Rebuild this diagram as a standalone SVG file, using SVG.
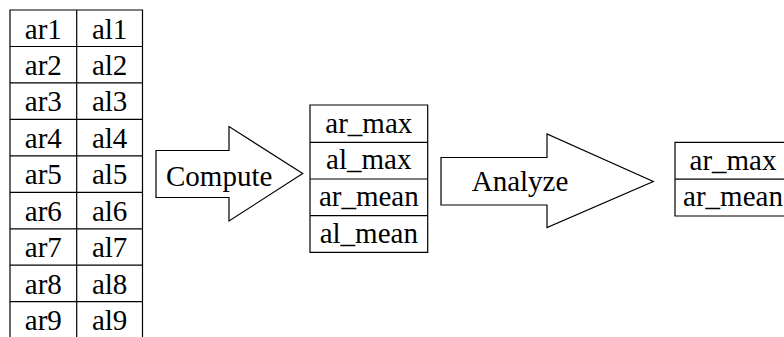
<svg xmlns="http://www.w3.org/2000/svg" width="784" height="337" viewBox="0 0 784 337">
<style>
.c{fill:#fff;stroke:#000;stroke-width:1.2}
.l{stroke:#000;stroke-width:1.2;fill:none}
text{font-family:'Liberation Serif',Tinos,'Times New Roman',Times,'Nimbus Roman','DejaVu Serif',serif;font-size:29px;fill:#000}
.m{text-anchor:middle}
</style>
<rect width="784" height="337" fill="#fff"/>
<g id="input-table">
<path class="l" d="M10,340 V10 H142.5 V340 M76.7,10 V340 M10,46.5 H142.5 M10,82.9 H142.5 M10,119.4 H142.5 M10,155.8 H142.5 M10,192.3 H142.5 M10,228.8 H142.5 M10,265.2 H142.5 M10,301.7 H142.5"/>
<text class="m" x="43.3" y="38.5">ar1</text><text class="m" x="109.6" y="38.5">al1</text>
<text class="m" x="43.3" y="75">ar2</text><text class="m" x="109.6" y="75">al2</text>
<text class="m" x="43.3" y="111.4">ar3</text><text class="m" x="109.6" y="111.4">al3</text>
<text class="m" x="43.3" y="147.9">ar4</text><text class="m" x="109.6" y="147.9">al4</text>
<text class="m" x="43.3" y="184.3">ar5</text><text class="m" x="109.6" y="184.3">al5</text>
<text class="m" x="43.3" y="220.8">ar6</text><text class="m" x="109.6" y="220.8">al6</text>
<text class="m" x="43.3" y="257.3">ar7</text><text class="m" x="109.6" y="257.3">al7</text>
<text class="m" x="43.3" y="293.7">ar8</text><text class="m" x="109.6" y="293.7">al8</text>
<text class="m" x="43.3" y="330.2">ar9</text><text class="m" x="109.6" y="330.2">al9</text>
</g>
<g id="connectors">
<g id="compute-arrow">
<path class="c" d="M156,150.5 H229 V126.5 L302.7,173.5 L229,221 V197.5 H156 Z"/>
<text x="166" y="185.7">Compute</text>
</g>
<g id="analyze-arrow">
<path class="c" d="M441,157.5 H547 V134 L653.3,181.5 L547,227.5 V205 H441 Z"/>
<text x="471.7" y="191">Analyze</text>
</g>
</g>
<g id="stats-table">
<path class="l" d="M310,105 H427.7 V252.3 H310 Z M310,142.3 H427.7 M310,179 H427.7 M310,215.7 H427.7"/>
<text class="m" x="368.8" y="132.7">ar_max</text>
<text class="m" x="368.8" y="169.4">al_max</text>
<text class="m" x="368.8" y="206.1">ar_mean</text>
<text class="m" x="368.8" y="242.8">al_mean</text>
</g>
<g id="result-table">
<path class="l" d="M792,142.3 H675 V216 H792 M675,179.2 H792"/>
<text class="m" x="733" y="169.8">ar_max</text>
<text class="m" x="733" y="206.3">ar_mean</text>
</g>
</svg>
